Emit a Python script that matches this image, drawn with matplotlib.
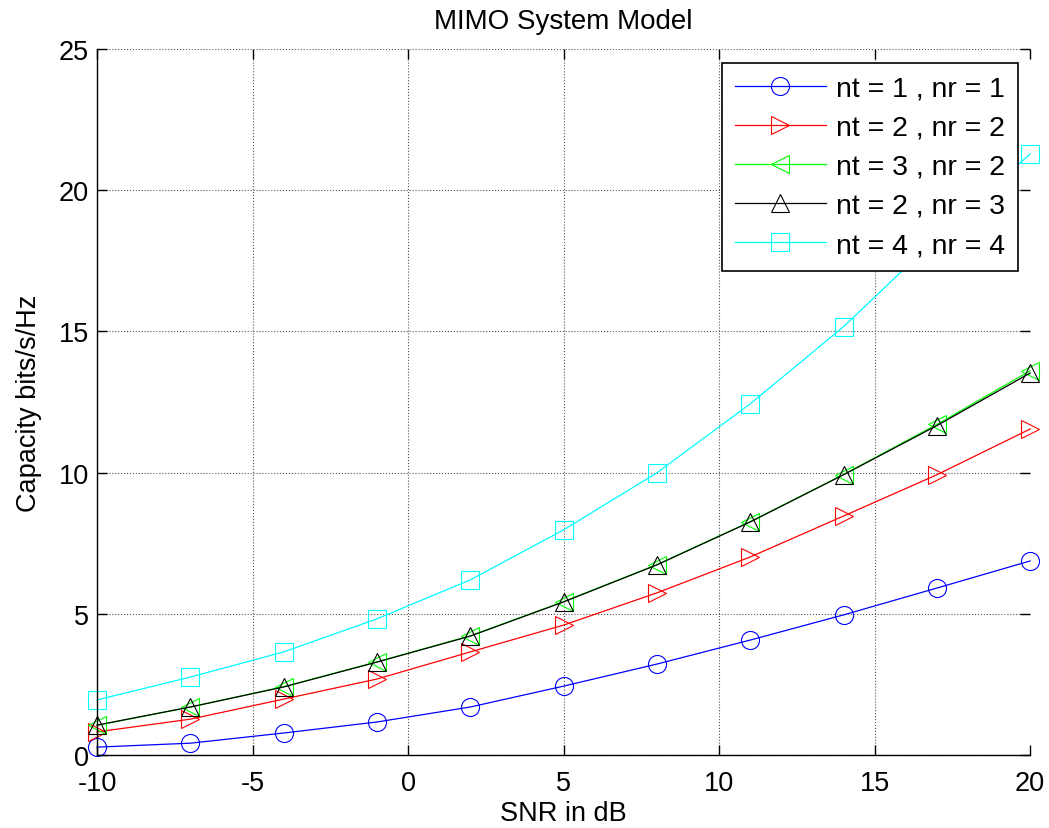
import matplotlib
matplotlib.use("Agg")
import matplotlib.pyplot as plt

plt.rcParams['font.family'] = ['Liberation Sans', 'DejaVu Sans']

snr_db = [-10, -7, -4, -1, 2, 5, 8, 11, 14, 17, 20]

cap_1x1 = [0.28, 0.42, 0.78, 1.17, 1.70, 2.44, 3.22, 4.07, 4.96, 5.91, 6.87]
cap_2x2 = [0.82, 1.27, 1.98, 2.69, 3.65, 4.60, 5.74, 7.01, 8.46, 9.92, 11.54]
cap_3x2 = [1.05, 1.70, 2.42, 3.30, 4.22, 5.43, 6.74, 8.26, 9.93, 11.70, 13.60]
cap_2x3 = [1.06, 1.70, 2.41, 3.29, 4.21, 5.42, 6.73, 8.25, 9.92, 11.66, 13.52]
cap_4x4 = [1.95, 2.76, 3.65, 4.82, 6.20, 7.97, 9.99, 12.43, 15.16, 18.30, 21.28]

labels = ['nt = 1 , nr = 1', 'nt = 2 , nr = 2', 'nt = 3 , nr = 2',
          'nt = 2 , nr = 3', 'nt = 4 , nr = 4']
x_ticks = [-10, -5, 0, 5, 10, 15, 20]
y_ticks = [0, 5, 10, 15, 20, 25]

series = [cap_1x1, cap_2x2, cap_3x2, cap_2x3, cap_4x4]
colors = ['#0000ff', '#ff0000', '#00ff00', '#000000', '#00ffff']
markers = ['o', '>', '<', '^', 's']

fig = plt.figure(figsize=(10.49, 8.29), dpi=100)
ax = fig.add_axes([0.0925, 0.088, 0.8895, 0.852])

for vals, c, m, lab in zip(series, colors, markers, labels):
    ax.plot(snr_db, vals, color=c, marker=m, markersize=13,
            markerfacecolor='none', markeredgecolor=c, markeredgewidth=0.8,
            linewidth=0.9, label=lab, clip_on=False)

ax.set_xlim(-10, 20)
ax.set_ylim(0, 25)
ax.set_xticks(x_ticks)
ax.set_yticks(y_ticks)
ax.set_xticklabels([str(t) for t in x_ticks])
ax.set_yticklabels([str(t) for t in y_ticks])
ax.grid(True, linestyle=':', color='#555555', linewidth=0.8)
ax.set_axisbelow(True)

ax.spines['top'].set_visible(False)
ax.spines['right'].set_visible(False)
ax.spines['left'].set_linewidth(1.0)
ax.spines['bottom'].set_linewidth(1.0)
ax.tick_params(direction='in', length=7.5, width=1.0, top=True, right=True,
               labelsize=19.5)
ax.tick_params(axis='x', pad=11)
ax.tick_params(axis='y', pad=6)

ax.set_title('MIMO System Model', fontsize=20, pad=15)
ax.set_xlabel('SNR in dB', fontsize=19.5, labelpad=3)
ax.set_ylabel('Capacity bits/s/Hz', fontsize=19.5, labelpad=12)

leg = ax.legend(loc='upper right', bbox_to_anchor=(0.987, 0.980),
                borderaxespad=0, fontsize=20.5, handlelength=3.2,
                handletextpad=0.36, labelspacing=0.46, borderpad=0.45,
                fancybox=False, framealpha=1, edgecolor='black')
leg.get_frame().set_linewidth(1.2)

fig.savefig('out.png', dpi=100)
